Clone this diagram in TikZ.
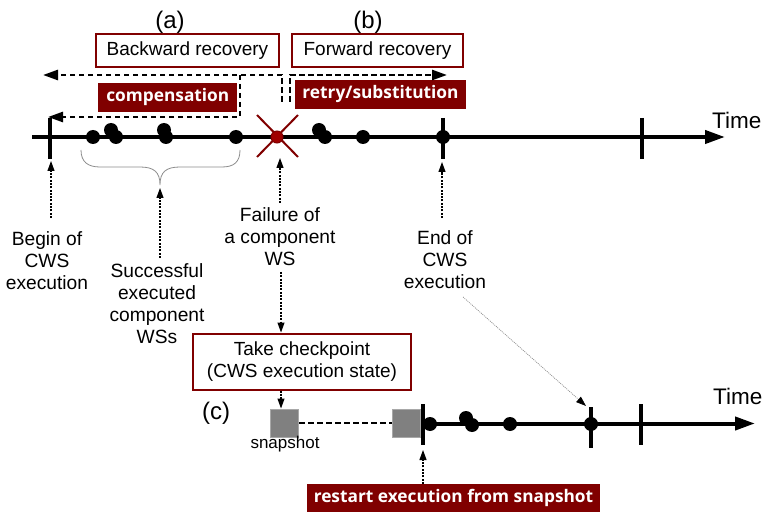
\documentclass[tikz,border=0pt]{standalone}
\usepackage{fontspec}
\setmainfont{Liberation Sans}
\newfontfamily\tagfont{Open Sans}
\usetikzlibrary{arrows.meta}
\definecolor{darkred}{HTML}{800000}
\definecolor{failred}{HTML}{A00000}
\definecolor{snapgray}{HTML}{808080}
\definecolor{snapedge}{HTML}{A8A8A8}
\definecolor{bracegray}{HTML}{8C8C8C}

\begin{document}
\begin{tikzpicture}[x=1pt,y=-1pt,
  txt/.style={font=\fontsize{19.2}{22}\selectfont, align=center, inner sep=0pt},
  bigtxt/.style={font=\fontsize{24}{28}\selectfont, inner sep=0pt},
  timetxt/.style={font=\fontsize{22.5}{26}\selectfont, inner sep=0pt, anchor=west},
  titlebox/.style={draw=darkred, line width=2pt, fill=white, align=center,
    font=\fontsize{19}{22.5}\selectfont, inner sep=0pt},
  tagbox/.style={fill=darkred, text=white, inner sep=0pt,
    font=\tagfont\bfseries\fontsize{17.3}{20}\selectfont},
  timeaxis/.style={line width=4pt, -{Triangle[length=20pt,width=13pt]}},
  tickmark/.style={line width=4pt},
  ev/.style={circle, fill=black, inner sep=0pt, minimum size=14pt},
  pointer/.style={line width=1.1pt, dash pattern=on 2pt off 1.3pt,
    -{Triangle[length=10pt,width=7pt]}},
  flow/.style={line width=2.6pt, dash pattern=on 5.5pt off 3.5pt,
    -{Triangle[length=15pt,width=10pt]}},
  snapbox/.style={fill=snapgray, draw=snapedge, line width=1pt, inner sep=0pt,
    minimum size=28pt},
]
\useasboundingbox (0,0) rectangle (766,513);

% ---------- headings and recovery boxes ----------
\node[bigtxt] (lbla) at (170,22) {(a)};
\node[bigtxt] (lblb) at (368,22) {(b)};
\node[titlebox, minimum width=183pt, minimum height=33pt] (backward) at (187.5,50.5) {Backward recovery};
\node[titlebox, minimum width=171pt, minimum height=33pt] (forward) at (377.5,50.5) {Forward recovery};
\node[tagbox, minimum width=139pt, minimum height=29pt] (comp) at (167.8,97.2) {compensation};
\node[tagbox, minimum width=171pt, minimum height=29pt] (retry) at (380.5,94.5) {retry/substitution};

% ---------- main execution time line ----------
\coordinate (t0) at (32,137);
\coordinate (t1) at (725,137);
\draw[timeaxis] (t0) -- (t1);
\node[timetxt] (time1) at (712,120) {Time};

\coordinate (begintop) at (50,118);  \coordinate (beginbot) at (50,159);
\coordinate (endtop)   at (443,118); \coordinate (endbot)   at (443,159);
\coordinate (lasttop)  at (642,118); \coordinate (lastbot)  at (642,159);
\draw[tickmark] (begintop) -- (beginbot);
\draw[tickmark] (endtop) -- (endbot);
\draw[tickmark] (lasttop) -- (lastbot);

\node[ev] (d1) at (93,137) {};
\node[ev] (d2) at (111,130) {};
\node[ev] (d3) at (116,137) {};
\node[ev] (d4) at (164,130) {};
\node[ev] (d5) at (166,137) {};
\node[ev] (d6) at (236,137) {};
\node[ev] (d7) at (319,130) {};
\node[ev] (d8) at (325,137) {};
\node[ev] (d9) at (363,137) {};
\node[ev] (dend) at (443,137) {};

% failed component: red cross over a red dot
\draw[darkred, line width=2pt] (257,115) -- (298,157);
\draw[darkred, line width=2pt] (298,115) -- (257,157);
\node[circle, fill=failred, draw=darkred, line width=1pt, inner sep=0pt,
  minimum size=12pt] (fail) at (277,137) {};

% ---------- recovery directions ----------
\coordinate (bwstart) at (282,102);
\coordinate (bwcorner) at (282,75);
\coordinate (bwend) at (43,75);
\coordinate (cpsplit) at (240,75);
\coordinate (cpcorner) at (240,117);
\coordinate (cpend) at (48,117);
\coordinate (fwstart) at (290,102);
\coordinate (fwcorner) at (290,75);
\coordinate (fwend) at (447,75);
\draw[flow] (bwstart) -- (bwcorner) -- (bwend);
\draw[flow] (cpsplit) -- (cpcorner) -- (cpend);
\draw[flow] (fwstart) -- (fwcorner) -- (fwend);

% ---------- brace under the successful components ----------
\coordinate (bracetip) at (160,185);
\draw[bracegray, line width=0.8pt]
  (81,150) .. controls (81,162) and (88,167) .. (100,167) -- (140,167)
  .. controls (154,167) and (160,172) .. (bracetip)
  .. controls (160,172) and (166,167) .. (180,167) -- (222,167)
  .. controls (234,167) and (240,162) .. (240,150);

% ---------- explanatory labels ----------
\node[txt] (beginlbl) at (47,261) {Begin of\\CWS\\execution};
\node[txt] (succlbl) at (157,304) {Successful\\executed\\component\\WSs};
\node[txt] (faillbl) at (280,237) {Failure of\\a component\\WS};
\node[txt] (endlbl) at (445,260) {End of\\CWS\\execution};

\coordinate (beginhead) at (51,161);
\coordinate (succhead) at (160,188);
\coordinate (failhead) at (280,158);
\coordinate (endhead) at (442,162);
\draw[pointer] (51,218) -- (beginhead);
\draw[pointer] (160,258) -- (succhead);
\draw[pointer] (280,203) -- (failhead);
\draw[pointer] (442,218) -- (endhead);

% ---------- checkpoint and restart ----------
\node[titlebox, minimum width=218pt, minimum height=56pt] (check) at (302,361.5)
  {Take checkpoint\\(CWS execution state)};
\coordinate (failtail) at (281,272);
\draw[pointer] (failtail) -- (failtail |- check.north);

\node[snapbox] (snap1) at (284.5,423) {};
\node[snapbox] (snap2) at (406.5,423) {};
\node[font=\fontsize{17}{20}\selectfont, inner sep=0pt] (snaplbl) at (285,444) {snapshot};
\draw[pointer] (check.south -| failtail) -- (failtail |- snap1.north);
\draw[line width=2.6pt, dash pattern=on 5.5pt off 3.5pt] (snap1.east) -- (snap2.west);

\node[bigtxt] (lblc) at (216,413) {(c)};

% ---------- resumed time line ----------
\coordinate (r0) at (422.7,423.5);
\coordinate (r1) at (755,423.5);
\draw[timeaxis] (r0) -- (r1);
\node[timetxt] (time2) at (713,396) {Time};

\coordinate (rstarttop) at (422.7,404); \coordinate (rstartbot) at (422.7,445);
\coordinate (rendtop) at (590.5,407);   \coordinate (rendbot) at (590.5,448);
\coordinate (rlasttop) at (641,404);    \coordinate (rlastbot) at (641,445);
\draw[tickmark] (rstarttop) -- (rstartbot);
\draw[tickmark] (rendtop) -- (rendbot);
\draw[tickmark] (rlasttop) -- (rlastbot);

\node[ev] (e1) at (430,424) {};
\node[ev] (e2) at (466,418) {};
\node[ev] (e3) at (472,425) {};
\node[ev] (e4) at (510,424) {};
\node[ev] (eend) at (591,424) {};

\node[tagbox, minimum width=293pt, minimum height=28pt] (restart) at (453.5,498)
  {restart execution from snapshot};
\coordinate (restarthead) at (423,450);
\draw[pointer] (restart.north -| restarthead) -- (restarthead);

% end of execution carried over to the resumed line
\coordinate (endtail) at (463,297);
\coordinate (rendhead) at (586,406);
\draw[bracegray, line width=0.7pt, dash pattern=on 1pt off 1pt,
  -{Triangle[length=10pt,width=7pt,color=black]}] (endtail) -- (rendhead);

\end{tikzpicture}
\end{document}
